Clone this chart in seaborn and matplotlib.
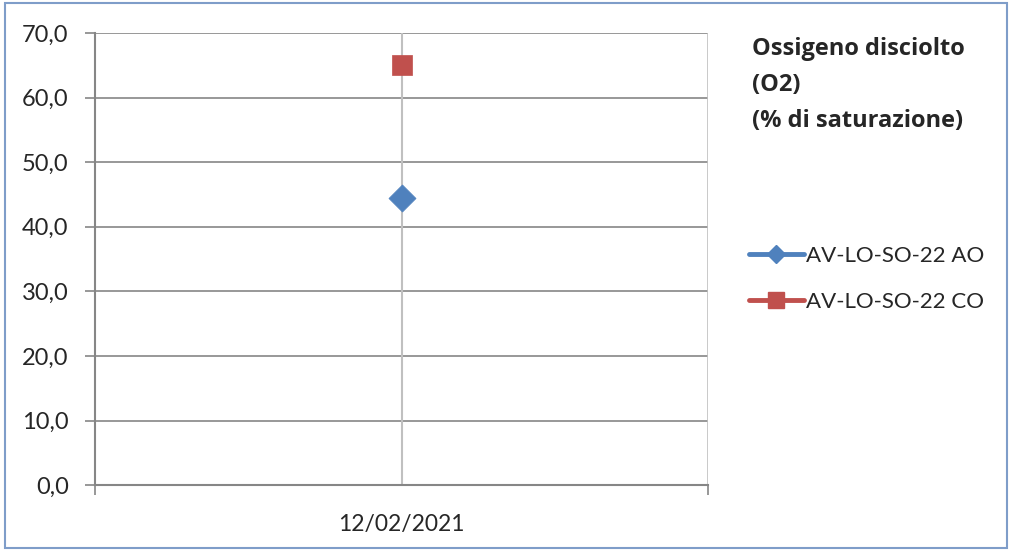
import seaborn as sns
import pandas as pd
import matplotlib.pyplot as plt
from matplotlib.lines import Line2D
from matplotlib.patches import Rectangle
from matplotlib.ticker import FixedLocator

# data
dates = ['12/02/2021']
series = ['AV-LO-SO-22 AO', 'AV-LO-SO-22 CO']
values_ao = [44.5]
values_co = [65.0]
colors = ['#4F81BD', '#C0504D']
markers = ['D', 's']
title_lines = ['Ossigeno disciolto', '(O2)', '(% di saturazione)']
y_ticks = [0, 10, 20, 30, 40, 50, 60, 70]

sns.set_style('white')
plt.rcParams['font.family'] = ['Lato', 'DejaVu Sans']

df = pd.DataFrame({
    'data': dates * 2,
    'serie': [series[0]] * len(values_ao) + [series[1]] * len(values_co),
    'valore': values_ao + values_co,
})

fig = plt.figure(figsize=(10.12, 5.5), dpi=100)
ax = fig.add_axes([0.0939, 0.118, 0.6057, 0.822])

# frame around the whole figure
fig.patches.append(Rectangle((0.005, 0.004), 0.990, 0.990, transform=fig.transFigure,
                             fill=False, edgecolor='#7F9DC9', linewidth=1.5))

# one scatter per series so each keeps its own marker
for i, name in enumerate(series):
    sub = df[df['serie'] == name]
    sns.scatterplot(data=sub, x='data', y='valore', color=colors[i],
                    marker=markers[i], s=200 if markers[i] == 's' else 190,
                    edgecolor=colors[i], linewidth=0.5, ax=ax, zorder=5)

ax.set_xlim(-0.5, 0.5)
ax.set_ylim(0, 70)
ax.set_yticks(y_ticks)
ax.set_yticklabels([f'{v:.1f}'.replace('.', ',') for v in y_ticks])
ax.set_xticks([0])
ax.set_xticklabels(dates)
ax.xaxis.set_minor_locator(FixedLocator([-0.5, 0.5]))
ax.set_xlabel('')
ax.set_ylabel('')

for v in y_ticks[1:]:
    ax.axhline(v, color='#868686', linewidth=1.2, zorder=1)
ax.axvline(0, color='#C0C0C0', linewidth=1.5, zorder=1)
ax.axvline(0.5, color='#C0C0C0', linewidth=1.2, zorder=1)

for side in ['top', 'right']:
    ax.spines[side].set_visible(False)
for side in ['left', 'bottom']:
    ax.spines[side].set_color('#868686')
    ax.spines[side].set_linewidth(1.5)

ax.tick_params(axis='y', which='major', length=7, width=1.2, color='#868686',
               direction='out', labelsize=17, pad=12, left=True)
ax.tick_params(axis='x', which='major', length=0, labelsize=16.5, pad=21)
ax.tick_params(axis='x', which='minor', length=7, width=1.2, color='#868686',
               direction='out', bottom=True)

# title on the right
fig.text(0.743, 0.933, '\n'.join(title_lines), fontsize=17, fontweight='bold',
         family=['Open Sans', 'DejaVu Sans'],
         va='top', ha='left', linespacing=1.66)

handles = [Line2D([], [], color=colors[i], marker=markers[i], linewidth=3.5,
                  markersize=9 if markers[i] == 'D' else 12)
           for i in range(2)]
fig.legend(handles, series, loc='center left', bbox_to_anchor=(0.72, 0.493),
           frameon=False, fontsize=16, handlelength=2.5, handletextpad=0.1,
           labelspacing=1.15)

fig.savefig('out.png', dpi=100)
